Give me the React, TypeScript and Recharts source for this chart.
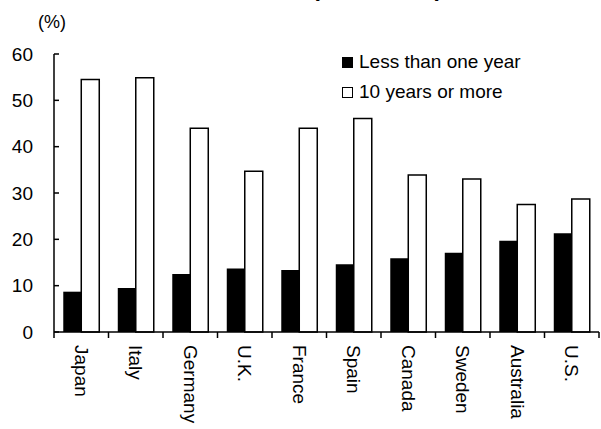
import { BarChart, Bar, XAxis, YAxis } from 'recharts';

// Share of employees by length of tenure, per country (%)
const countries = ['Japan', 'Italy', 'Germany', 'U.K.', 'France', 'Spain', 'Canada', 'Sweden', 'Australia', 'U.S.'];
const lessThanOneYear = [8.7, 9.5, 12.5, 13.7, 13.4, 14.6, 15.9, 17.1, 19.7, 21.3];
const tenYearsOrMore = [54.5, 54.9, 44.0, 34.7, 44.0, 46.1, 33.9, 33.0, 27.5, 28.7];
const yTicks = [0, 10, 20, 30, 40, 50, 60];
const legendItems = [
  { label: 'Less than one year', fill: '#000' },
  { label: '10 years or more', fill: '#fff' },
];

const data = countries.map((name, i) => ({
  name,
  short: lessThanOneYear[i],
  long: tenYearsOrMore[i],
}));

const W = 601;
const H = 429;
const AXIS_W = 54;
const X_AXIS_H = 97;
const RIGHT = 2;
const TOP = 54;
const PLOT_LEFT = AXIS_W;
const PLOT_BOTTOM = H - X_AXIS_H;
const BAND = (W - AXIS_W - RIGHT) / countries.length;
const FONT = '"Liberation Sans", Arial, sans-serif';

function YTick({ y, payload }: any) {
  return (
    <g>
      <line x1={PLOT_LEFT} x2={PLOT_LEFT + 5} y1={y} y2={y} stroke="#000" strokeWidth={1.5} />
      <text x={33} y={y} dy="0.35em" textAnchor="end" fontSize={19} fontFamily={FONT} fill="#000">
        {payload.value}
      </text>
    </g>
  );
}

function XTick({ x, payload, index }: any) {
  const left = x - BAND / 2;
  const last = index === countries.length - 1;
  return (
    <g>
      <line x1={left} x2={left} y1={PLOT_BOTTOM} y2={PLOT_BOTTOM + 6} stroke="#000" strokeWidth={1.5} />
      {last && (
        <line x1={x + BAND / 2} x2={x + BAND / 2} y1={PLOT_BOTTOM} y2={PLOT_BOTTOM + 6} stroke="#000" strokeWidth={1.5} />
      )}
      <g transform={`translate(${x}, ${PLOT_BOTTOM + 13}) rotate(90)`}>
        <text x={0} y={0} dy="0.35em" textAnchor="start" fontSize={19} fontFamily={FONT} fill="#000">
          {payload.value}
        </text>
      </g>
    </g>
  );
}

export default function App() {
  return (
    <div style={{ position: 'absolute', left: 0, top: 0, width: W, height: H, background: '#fff', overflow: 'hidden' }}>
      {/* heading sits mostly above the top edge */}
      <div
        style={{
          position: 'absolute',
          left: 312,
          top: -23,
          fontFamily: FONT,
          fontWeight: 700,
          fontSize: 23,
          lineHeight: '23px',
          whiteSpace: 'nowrap',
        }}
      >
        (2000, 2001)
      </div>
      <div style={{ position: 'absolute', left: 38, top: 11, fontFamily: FONT, fontSize: 18, lineHeight: '22px' }}>
        (%)
      </div>
      <div style={{ position: 'absolute', left: 342, top: 47, fontFamily: FONT, fontSize: 19, color: '#000', zIndex: 1 }}>
        {legendItems.map(item => (
          <div key={item.label} style={{ display: 'flex', alignItems: 'center', height: 30 }}>
            <span
              style={{
                display: 'inline-block',
                width: 9,
                height: 9,
                background: item.fill,
                border: '1px solid #000',
                marginRight: 6,
              }}
            />
            <span>{item.label}</span>
          </div>
        ))}
      </div>
      <BarChart
        width={W}
        height={H}
        data={data}
        margin={{ top: TOP, right: RIGHT, bottom: 0, left: 0 }}
        barCategoryGap="17%"
        barGap={0}
      >
        <XAxis
          dataKey="name"
          height={X_AXIS_H}
          axisLine={{ stroke: '#000', strokeWidth: 1.5 }}
          tickLine={false}
          tick={<XTick />}
          interval={0}
        />
        <YAxis
          width={AXIS_W}
          domain={[0, 60]}
          ticks={yTicks}
          axisLine={{ stroke: '#000', strokeWidth: 1.5 }}
          tickLine={false}
          tick={<YTick />}
        />
        <Bar dataKey="short" name="Less than one year" fill="#000" isAnimationActive={false} />
        <Bar dataKey="long" name="10 years or more" fill="#fff" stroke="#000" strokeWidth={1.5} isAnimationActive={false} />
      </BarChart>
    </div>
  );
}
